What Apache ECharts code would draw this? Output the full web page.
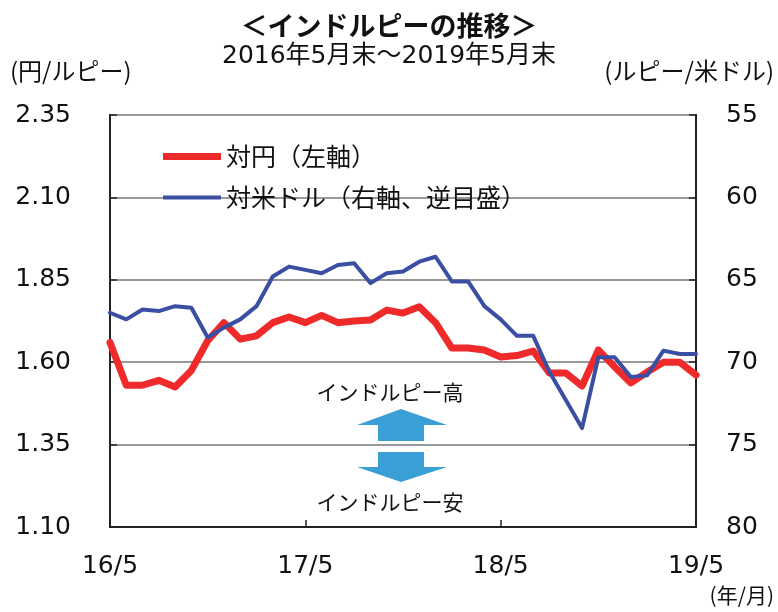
<!DOCTYPE html>
<html>
<head>
<meta charset="utf-8">
<script src="https://cdn.jsdelivr.net/npm/echarts@6/dist/echarts.min.js"></script>
<style>
  html, body { margin: 0; padding: 0; background: #fff; }
  #main { width: 778px; height: 612px; }
</style>
</head>
<body>
<div id="main"></div>
<script>
// 月次（2016/5 ～ 2019/5）
var months = [
  '16/5','16/6','16/7','16/8','16/9','16/10','16/11','16/12','17/1','17/2','17/3','17/4',
  '17/5','17/6','17/7','17/8','17/9','17/10','17/11','17/12','18/1','18/2','18/3','18/4',
  '18/5','18/6','18/7','18/8','18/9','18/10','18/11','18/12','19/1','19/2','19/3','19/4',
  '19/5'
];

// 対円（円/ルピー、左軸）
var yenPerRupee = [
  1.66, 1.53, 1.53, 1.545, 1.525, 1.575, 1.665, 1.72, 1.67, 1.68, 1.72, 1.737,
  1.72, 1.742, 1.72, 1.725, 1.728, 1.758, 1.749, 1.768, 1.72, 1.643, 1.643, 1.637,
  1.616, 1.62, 1.634, 1.567, 1.567, 1.528, 1.637, 1.586, 1.537, 1.57, 1.60, 1.60,
  1.561
];

// 対米ドル（ルピー/米ドル、右軸・逆目盛）
var rupeePerUsd = [
  67.0, 67.4, 66.8, 66.9, 66.6, 66.7, 68.5, 67.9, 67.4, 66.6, 64.8, 64.2,
  64.4, 64.6, 64.1, 64.0, 65.2, 64.6, 64.5, 63.9, 63.6, 65.1, 65.1, 66.6,
  67.4, 68.4, 68.4, 70.6, 72.3, 74.0, 69.7, 69.7, 70.9, 70.8, 69.3, 69.5,
  69.5
];

var leftTicks = [1.10, 1.35, 1.60, 1.85, 2.10, 2.35];

var jp = '"Noto Sans CJK JP", sans-serif';
var num = '"DejaVu Sans", "Noto Sans CJK JP", sans-serif';

var RED = '#ee2a2a';
var BLUE = '#3a4fa2';

var chart = echarts.init(document.getElementById('main'), null, { renderer: 'canvas' });

var option = {
  backgroundColor: '#fff',
  animation: false,
  grid: {
    left: 110, right: 82, top: 115, bottom: 85,
    show: true, borderColor: '#222', borderWidth: 2
  },
  legend: {
    data: [
      { name: '対円（左軸）', icon: 'path://M0,0H58V7H0Z', itemStyle: { color: RED } },
      { name: '対米ドル（右軸、逆目盛）', icon: 'path://M0,0H58V4H0Z', itemStyle: { color: BLUE } }
    ],
    orient: 'vertical',
    left: 158, top: 139,
    itemWidth: 58, itemHeight: 14, itemGap: 16,
    textStyle: { fontFamily: jp, fontSize: 25, color: '#111' }
  },
  xAxis: {
    type: 'category',
    data: months,
    boundaryGap: false,
    axisLine: { lineStyle: { color: '#222', width: 2 } },
    axisTick: { inside: true, interval: 11, length: 7, lineStyle: { color: '#222', width: 1.5 } },
    axisLabel: { interval: 11, margin: 27, fontFamily: num, fontSize: 25, color: '#111' },
    splitLine: { show: false }
  },
  yAxis: [
    {
      // 左軸：目盛りラベル（1.10 起点で 0.25 刻み）
      type: 'value', position: 'left',
      min: 1.10, max: 2.35, interval: 0.05,
      axisLine: { show: true, lineStyle: { color: '#222', width: 2 } },
      axisTick: { show: false },
      splitLine: { show: false },
      axisLabel: {
        margin: 39, fontFamily: num, fontSize: 25, color: '#111',
        formatter: function (v) {
          for (var i = 0; i < leftTicks.length; i++) {
            if (Math.abs(v - leftTicks[i]) < 1e-6) return v.toFixed(2);
          }
          return '';
        }
      }
    },
    {
      // 右軸：逆目盛
      type: 'value', position: 'right', inverse: true,
      min: 55, max: 80, interval: 5,
      axisLine: { show: true, lineStyle: { color: '#222', width: 2 } },
      axisTick: { show: true, inside: true, length: 7, lineStyle: { color: '#222', width: 1.5 } },
      splitLine: { show: true, lineStyle: { color: '#999', width: 2 } },
      axisLabel: { margin: 30, fontFamily: num, fontSize: 25, color: '#111' }
    },
    {
      // 左側の内向き目盛り線だけ
      type: 'value', position: 'left', inverse: true,
      min: 55, max: 80, interval: 5,
      axisLine: { show: false },
      axisTick: { show: true, inside: true, length: 7, lineStyle: { color: '#222', width: 1.5 } },
      axisLabel: { show: false },
      splitLine: { show: false }
    }
  ],
  series: [
    {
      name: '対円（左軸）',
      type: 'line',
      yAxisIndex: 0,
      data: yenPerRupee,
      symbol: 'none',
      lineStyle: { color: RED, width: 7, cap: 'round', join: 'round' },
      itemStyle: { color: RED },
      z: 2
    },
    {
      name: '対米ドル（右軸、逆目盛）',
      type: 'line',
      yAxisIndex: 1,
      data: rupeePerUsd,
      symbol: 'none',
      lineStyle: { color: BLUE, width: 4, cap: 'round', join: 'round' },
      itemStyle: { color: BLUE },
      z: 3
    }
  ],
  graphic: [
    {
      type: 'text', left: 'center', top: 12,
      style: { text: '＜インドルピーの推移＞', font: 'bold 27px ' + jp, fill: '#111' }
    },
    {
      type: 'text', left: 'center', top: 44,
      style: { text: '2016年5月末～2019年5月末', font: '25px ' + num, fill: '#111' }
    },
    {
      type: 'text', left: 10, top: 59,
      style: { text: '(円/ルピー)', font: '24px ' + jp, fill: '#111' }
    },
    {
      type: 'text', right: 4, top: 59,
      style: { text: '(ルピー/米ドル)', font: '24px ' + jp, fill: '#111' }
    },
    {
      type: 'text', right: 4, top: 585,
      style: { text: '(年/月)', font: '21px ' + jp, fill: '#111' }
    },
    {
      type: 'text', x: 390, y: 392,
      style: { text: 'インドルピー高', font: '21px ' + jp, fill: '#111', align: 'center', verticalAlign: 'middle' }
    },
    {
      type: 'text', x: 390, y: 502,
      style: { text: 'インドルピー安', font: '21px ' + jp, fill: '#111', align: 'center', verticalAlign: 'middle' }
    },
    {
      type: 'polygon',
      shape: { points: [[401, 409], [447, 425], [424, 425], [424, 441], [378, 441], [378, 425], [357, 425]] },
      style: { fill: '#3a9fd6' }
    },
    {
      type: 'polygon',
      shape: { points: [[378, 452], [424, 452], [424, 467], [447, 467], [401, 482], [357, 467], [378, 467]] },
      style: { fill: '#3a9fd6' }
    }
  ]
};

chart.setOption(option);
</script>
</body>
</html>
